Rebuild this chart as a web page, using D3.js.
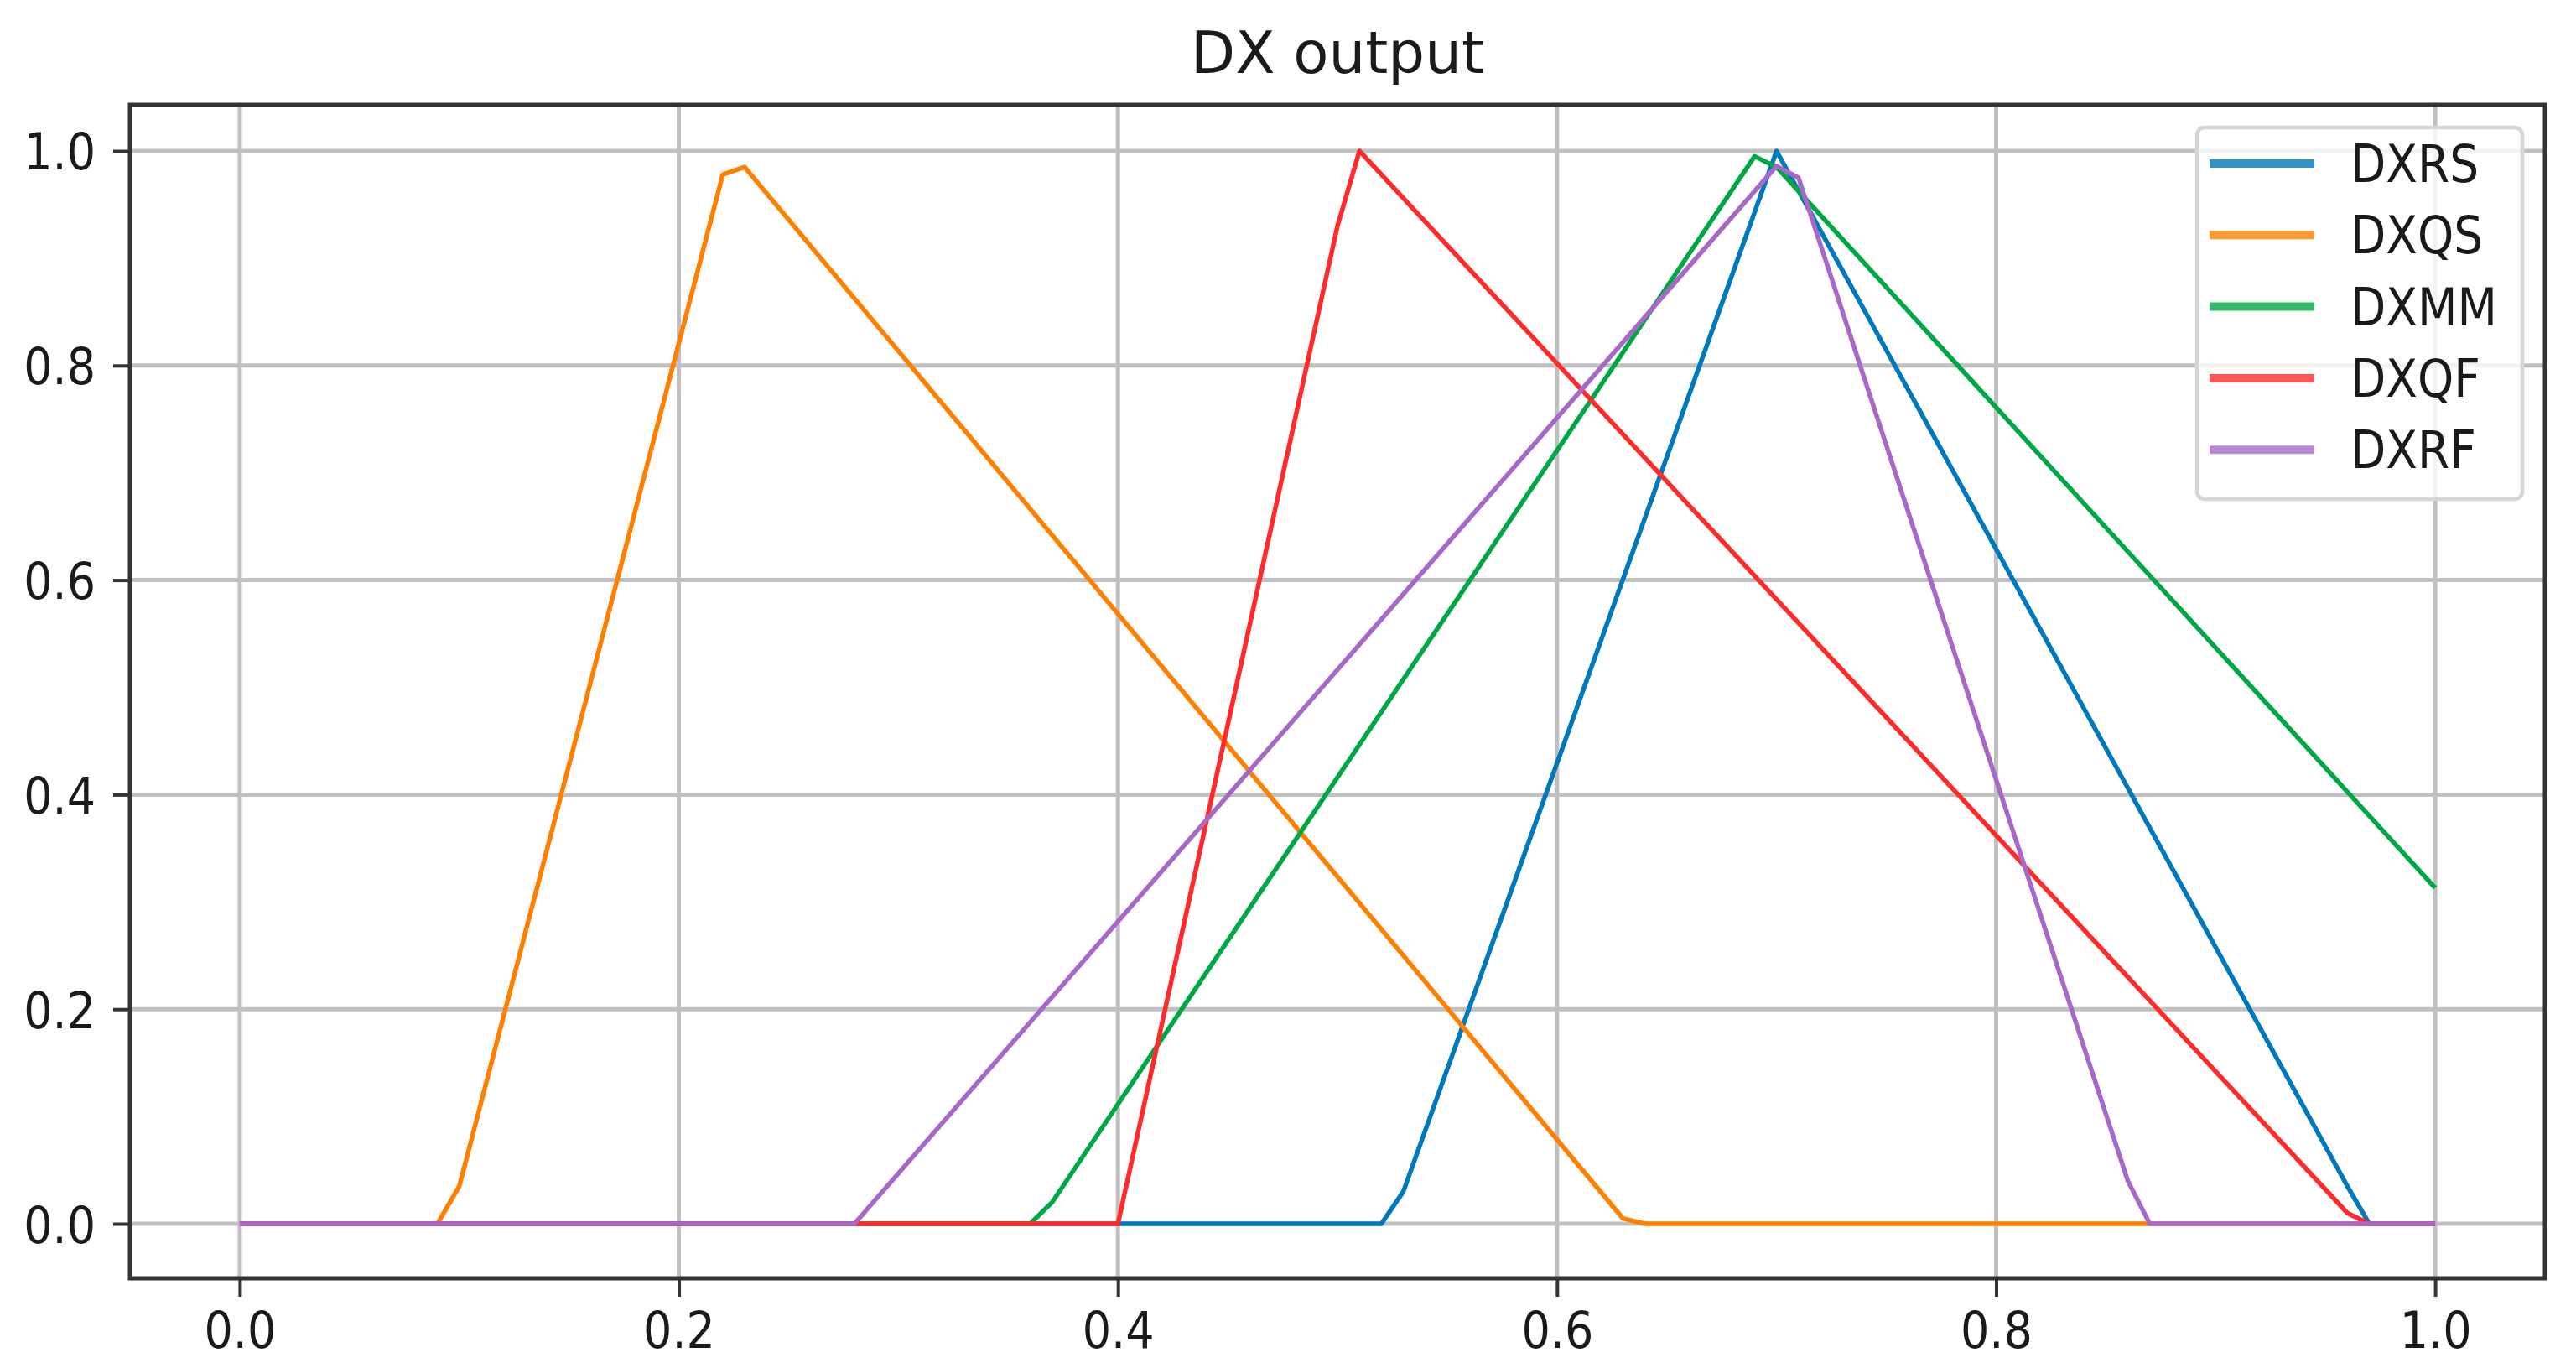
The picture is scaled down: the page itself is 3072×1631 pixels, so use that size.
<!DOCTYPE html>
<html>
<head>
<meta charset="utf-8">
<script src="https://d3js.org/d3.v7.min.js"></script>
<style>
  body { margin: 0; background: #fff; }
  text { font-family: "DejaVu Sans", sans-serif; fill: #1a1a1a; }
</style>
</head>
<body>
<div id="chart"></div>
<script>
(function() {
  // data (vertices of each curve)
  var seriesNames = ["DXRS", "DXQS", "DXMM", "DXQF", "DXRF"];
  var seriesColors = ["#0078bc", "#ff8000", "#00a844", "#ff2a2a", "#a868c8"];

  var dxrs = [[0, 0], [0.52, 0], [0.53, 0.03], [0.70, 1.0], [0.96, 0.035], [0.97, 0], [1.0, 0]];
  var dxqs = [[0, 0], [0.09, 0], [0.10, 0.035], [0.22, 0.978], [0.23, 0.985], [0.63, 0.005], [0.64, 0], [1.0, 0]];
  var dxmm = [[0, 0], [0.36, 0], [0.37, 0.02], [0.69, 0.995], [0.70, 0.985], [1.0, 0.313]];
  var dxqf = [[0, 0], [0.40, 0], [0.50, 0.93], [0.51, 1.0], [0.96, 0.01], [0.97, 0], [1.0, 0]];
  var dxrf = [[0, 0], [0.28, 0], [0.70, 0.986], [0.71, 0.975], [0.86, 0.04], [0.87, 0], [1.0, 0]];

  var xTicks = [0, 0.2, 0.4, 0.6, 0.8, 1.0];
  var yTicks = [0, 0.2, 0.4, 0.6, 0.8, 1.0];
  var title = "DX output";

  var allSeries = [dxrs, dxqs, dxmm, dxqf, dxrf];

  var W = 3072, H = 1631;
  var margin = { top: 125, left: 155, right: 37, bottom: 107 },
  width = W - margin.left - margin.right,
  height = H - margin.top - margin.bottom;

  var stretch = 1.13;

  var svg = d3.select("#chart")
        .append("svg")
        .attr("width", W)
        .attr("height", H);

  var xPositionScale = d3.scaleLinear().domain([-0.05, 1.05]).range([margin.left, margin.left + width]);
  var yPositionScale = d3.scaleLinear().domain([-0.0508, 1.043]).range([margin.top + height, margin.top]);

  // grid
  svg.append("g").selectAll("line")
    .data(xTicks)
    .enter().append("line")
    .attr("x1", function(d) { return xPositionScale(d) })
    .attr("x2", function(d) { return xPositionScale(d) })
    .attr("y1", margin.top)
    .attr("y2", margin.top + height)
    .attr("stroke", "#c0c0c0")
    .attr("stroke-width", 5)

  svg.append("g").selectAll("line")
    .data(yTicks)
    .enter().append("line")
    .attr("y1", function(d) { return yPositionScale(d) })
    .attr("y2", function(d) { return yPositionScale(d) })
    .attr("x1", margin.left)
    .attr("x2", margin.left + width)
    .attr("stroke", "#c0c0c0")
    .attr("stroke-width", 5)

  var line = d3.line()
    .x(function(d) { return xPositionScale(d[0]) })
    .y(function(d) { return yPositionScale(d[1]) })

  svg.selectAll(".series")
    .data(allSeries)
    .enter().append("path")
    .attr("class", "series")
    .attr("d", line)
    .attr("fill", "none")
    .attr("stroke", function(d, i) { return seriesColors[i] })
    .attr("stroke-width", 5.5)
    .attr("stroke-linejoin", "round")

  // axes
  var xAxis = d3.axisBottom(xPositionScale).tickValues(xTicks).tickSize(22)
    .tickFormat(d3.format(".1f"));
  var xg = svg.append("g")
    .attr("transform", "translate(0," + (margin.top + height) + ")")
    .call(xAxis);

  var yAxis = d3.axisLeft(yPositionScale).tickValues(yTicks).tickSize(20)
    .tickFormat(d3.format(".1f"));
  var yg = svg.append("g")
    .attr("transform", "translate(" + margin.left + ",0)")
    .call(yAxis);

  [xg, yg].forEach(function(g) {
    g.select(".domain").remove();
    g.selectAll(".tick line").attr("stroke", "#333").attr("stroke-width", 4);
    g.selectAll(".tick text")
      .attr("fill", "#1a1a1a")
      .style("font-size", "54px")
      .attr("x", null).attr("y", null).attr("dy", null);
  });

  xg.selectAll(".tick text")
    .attr("text-anchor", "middle")
    .attr("transform", "translate(0,83) scale(1," + stretch + ")");

  yg.selectAll(".tick text")
    .attr("text-anchor", "end")
    .attr("transform", "translate(-41,22) scale(1," + stretch + ")");

  // frame
  svg.append("rect")
    .attr("x", margin.left)
    .attr("y", margin.top)
    .attr("width", width)
    .attr("height", height)
    .attr("fill", "none")
    .attr("stroke", "#333")
    .attr("stroke-width", 5)

  svg.append("text")
    .attr("x", margin.left + width / 2)
    .attr("y", 87)
    .attr("text-anchor", "middle")
    .style("font-size", "69px")
    .text(title)

  // legend
  var legend = svg.append("g").attr("transform", "translate(2620,152)");
  legend.append("rect")
    .attr("width", 388)
    .attr("height", 443)
    .attr("rx", 9)
    .attr("fill", "#fff")
    .attr("fill-opacity", 0.8)
    .attr("stroke", "#d6d6d6")
    .attr("stroke-width", 4.5)

  var item = legend.selectAll(".item")
    .data(seriesNames)
    .enter().append("g")
    .attr("class", "item")
    .attr("transform", function(d, i) { return "translate(0," + (43 + i * 85.3) + ")" })

  item.append("line")
    .attr("x1", 15).attr("x2", 140)
    .attr("stroke", function(d, i) { return seriesColors[i] })
    .attr("stroke-opacity", 0.8)
    .attr("stroke-width", 10)

  item.append("text")
    .attr("transform", "translate(183,22) scale(1," + stretch + ")")
    .style("font-size", "55px")
    .text(function(d) { return d })
})();
</script>
</body>
</html>
